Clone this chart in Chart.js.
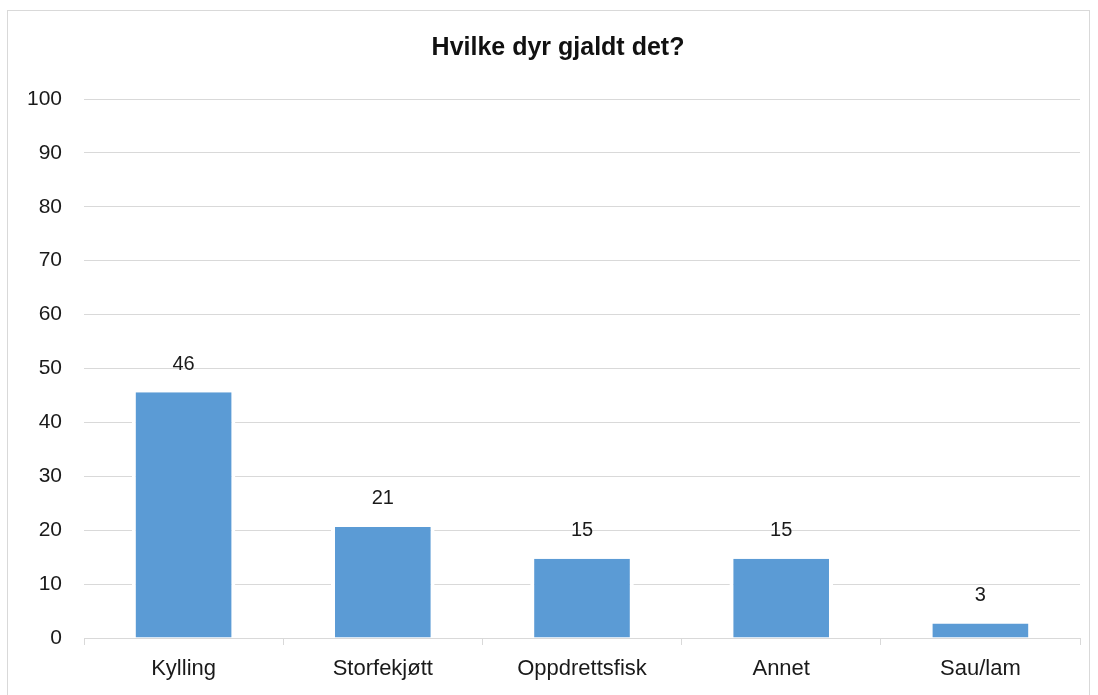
<!DOCTYPE html>
<html>
<head>
<meta charset="utf-8">
<script src="https://cdn.jsdelivr.net/npm/chart.js@4.4.0/dist/chart.umd.min.js"></script>
<style>
  html, body { margin:0; padding:0; background:#fff; }
  #marco { position:absolute; left:7px; top:10px; width:1083px; height:700px; border:1px solid #d9d9d9; box-sizing:border-box; }
  #wrap { position:absolute; left:0; top:0; width:1098px; height:695px; }
</style>
</head>
<body>
<div id="marco"></div>
<div id="wrap"><canvas id="barChartDyr" width="1098" height="695"></canvas></div>
<script>

var categorias = ["Kylling", "Storfekjøtt", "Oppdrettsfisk", "Annet", "Sau/lam"];
var valores = [45.6, 20.6, 14.7, 14.7, 2.7];
var ticksY = [0, 10, 20, 30, 40, 50, 60, 70, 80, 90, 100];
var titulo = "Hvilke dyr gjaldt det?";

var fuente = "'Liberation Sans', Arial, sans-serif";

// etiquetas encima de cada barra
var etiquetasPlugin = {
  id: "etiquetas",
  afterDatasetsDraw: function(chart){
    var ctx = chart.ctx;
    var meta = chart.getDatasetMeta(0);
    ctx.save();
    ctx.fillStyle = "#1a1a1a";
    ctx.font = "20px " + fuente;
    ctx.textAlign = "center";
    ctx.textBaseline = "bottom";
    meta.data.forEach(function(bar, i){
      ctx.fillText(Math.round(valores[i]).toString(), bar.x, bar.y - 18);
    });
    ctx.restore();
  }
};

// titulo dibujado aparte (en Excel no queda centrado en el canvas)
var tituloPlugin = {
  id: "tituloDyr",
  afterDraw: function(chart){
    var ctx = chart.ctx;
    ctx.save();
    ctx.fillStyle = "#111111";
    ctx.font = "bold 25px " + fuente;
    ctx.textAlign = "center";
    ctx.textBaseline = "middle";
    ctx.fillText(titulo, 558, 48);
    ctx.restore();
  }
};

function GraficoDyr(){
  var ctx = document.getElementById("barChartDyr").getContext("2d");

  var config = {
    type: "bar",
    data: {
      labels: categorias,
      datasets: [{
        label: "Antall",
        data: valores,
        backgroundColor: "#5B9BD5",
        borderColor: "#ffffff",
        borderWidth: { left: 4, right: 4, top: 0, bottom: 0 },
        borderSkipped: false,
        barPercentage: 0.52,
        categoryPercentage: 1.0
      }]
    },
    options: {
      responsive: false,
      animation: false,
      layout: { padding: { left: 0, right: 18, top: 99, bottom: 0 } },
      plugins: {
        legend: { display: false },
        tooltip: { enabled: false },
        title: { display: false }
      },
      scales: {
        x: {
          grid: { display: true, drawOnChartArea: false, offset: true, color: "#d9d9d9", tickLength: 7 },
          border: { display: true, color: "#d9d9d9", width: 1 },
          ticks: { color: "#1a1a1a", font: { family: fuente, size: 22 }, padding: 11 },
          afterFit: function(scale){ scale.height = 57; }
        },
        y: {
          min: 0,
          max: 100,
          afterBuildTicks: function(scale){
            scale.ticks = ticksY.map(function(v){ return { value: v }; });
          },
          grid: { color: "#d9d9d9", lineWidth: 1, drawTicks: false },
          border: { display: false },
          ticks: { color: "#1a1a1a", font: { family: fuente, size: 21 }, padding: 22 },
          afterFit: function(scale){ scale.width = 84; }
        }
      }
    },
    plugins: [etiquetasPlugin, tituloPlugin]
  };

  var grafico = new Chart(ctx, config);
}

GraficoDyr();
</script>
</body>
</html>
